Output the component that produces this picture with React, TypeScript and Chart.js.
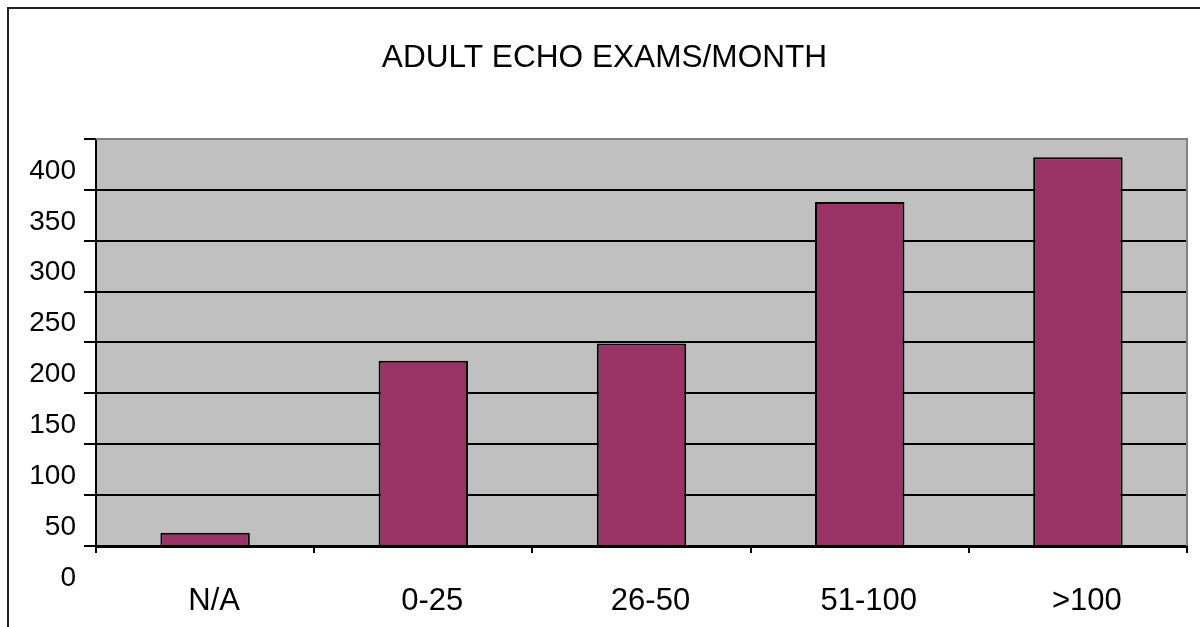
import { useEffect, useRef } from 'react';
import { Chart, registerables } from 'chart.js';

Chart.register(...registerables);

const TITLE = 'ADULT ECHO EXAMS/MONTH';
const categories = ['N/A', '0-25', '26-50', '51-100', '>100'];
const examCounts = [13, 182, 199, 338, 382];
const yTickValues = [0, 50, 100, 150, 200, 250, 300, 350, 400];

const chromePlugin = {
  id: 'excelChrome',
  beforeDraw(chart: any) {
    const { ctx, chartArea: a } = chart;
    ctx.save();
    ctx.fillStyle = '#ffffff';
    ctx.fillRect(0, 0, chart.width, chart.height);
    ctx.fillStyle = '#C0C0C0';
    ctx.fillRect(a.left, a.top, a.right - a.left, a.bottom - a.top);
    ctx.strokeStyle = '#222222';
    ctx.lineWidth = 2;
    ctx.beginPath();
    ctx.moveTo(8, chart.height);
    ctx.lineTo(8, 8);
    ctx.lineTo(chart.width, 8);
    ctx.stroke();
    ctx.restore();
  },
  beforeDatasetsDraw(chart: any) {
    const { ctx, chartArea: a } = chart;
    ctx.save();
    ctx.strokeStyle = '#808080';
    ctx.lineWidth = 2;
    ctx.beginPath();
    ctx.moveTo(a.left, a.top);
    ctx.lineTo(a.right, a.top);
    ctx.lineTo(a.right, a.bottom);
    ctx.stroke();
    ctx.restore();
  },
};

export default function App() {
  const ref = useRef<HTMLCanvasElement | null>(null);

  useEffect(() => {
    if (!ref.current) return;
    const chart = new Chart(ref.current, {
      type: 'bar',
      data: {
        labels: categories,
        datasets: [
          {
            data: examCounts,
            backgroundColor: '#993366',
            borderColor: '#000000',
            borderWidth: 2,
            barPercentage: 0.41,
            categoryPercentage: 1,
          },
        ],
      },
      options: {
        responsive: false,
        animation: false,
        layout: { padding: { left: 9, right: 0, top: 0, bottom: 0 } },
        plugins: {
          legend: { display: false },
          tooltip: { enabled: false },
          title: {
            display: true,
            text: TITLE,
            color: '#000000',
            font: { family: '"Liberation Sans", Arial, sans-serif', size: 31.6, weight: 'normal' },
            padding: { top: 39, bottom: 62 },
          },
        },
        scales: {
          x: {
            type: 'category',
            offset: true,
            grid: {
              display: true,
              drawOnChartArea: false,
              drawTicks: true,
              tickLength: 7,
              tickColor: '#000000',
              lineWidth: 2,
              offset: true,
            },
            border: { display: true, color: '#000000', width: 3 },
            ticks: {
              color: '#000000',
              font: { family: '"Liberation Sans", Arial, sans-serif', size: 31 },
              padding: 30,
              labelOffset: 9,
              maxRotation: 0,
              autoSkip: false,
            },
            afterFit: (s: any) => {
              s.height = 81;
            },
          },
          y: {
            type: 'linear',
            position: 'left',
            min: 0,
            max: 400,
            afterBuildTicks: (s: any) => {
              s.ticks = yTickValues.map((v) => ({ value: v }));
            },
            grid: {
              color: (c: any) => (c.tick && c.tick.value === 400 ? '#808080' : '#000000'),
              lineWidth: 2,
              tickLength: 12,
              tickColor: '#000000',
            },
            border: { display: true, color: '#000000', width: 2 },
            ticks: {
              color: '#000000',
              font: { family: '"Liberation Sans", Arial, sans-serif', size: 28 },
              padding: 8,
              labelOffset: 32,
            },
            afterFit: (s: any) => {
              s.width = 87;
            },
          },
          yPad: {
            type: 'linear',
            position: 'right',
            display: true,
            grid: { display: false },
            ticks: { display: false },
            border: { display: false },
            afterFit: (s: any) => {
              s.width = 13;
            },
          },
        },
      },
      plugins: [chromePlugin],
    });
    return () => chart.destroy();
  }, []);

  return (
    <div style={{ position: 'fixed', left: 0, top: 0, width: 1200, height: 627, background: '#fff' }}>
      <canvas ref={ref} width={1200} height={627} style={{ width: 1200, height: 627, display: 'block' }} />
    </div>
  );
}
